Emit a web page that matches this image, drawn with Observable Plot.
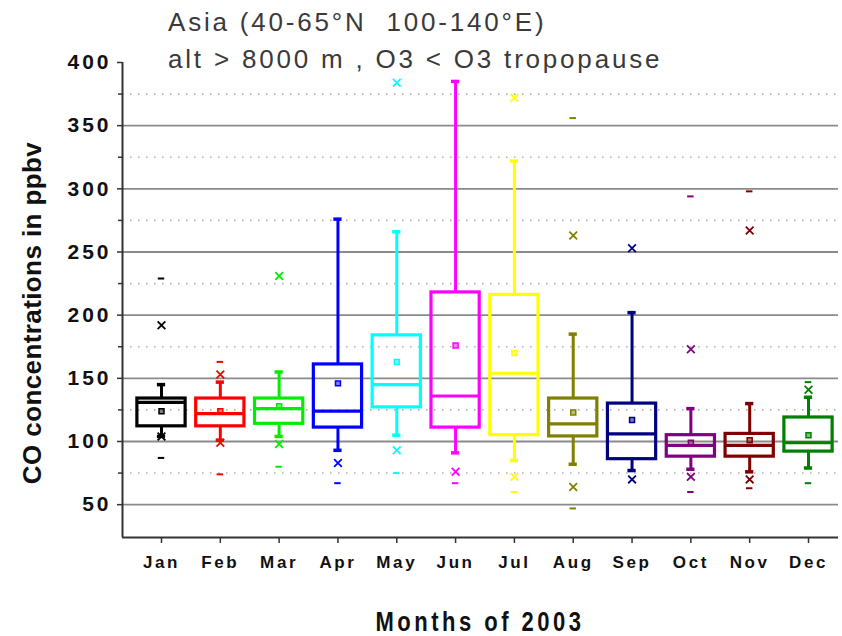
<!DOCTYPE html>
<html>
<head>
<meta charset="utf-8">
<script src="https://cdn.jsdelivr.net/npm/d3@7"></script>
<script src="https://cdn.jsdelivr.net/npm/@observablehq/plot@0.6"></script>
<style>
  html, body { margin: 0; padding: 0; background: #fff; }
  #wrap { position: relative; width: 842px; height: 636px; font-family: "Liberation Sans", Arial, sans-serif; overflow: hidden; }
  .t { position: absolute; left: 168px; font-size: 26px; line-height: 26px; color: #3a3a3a; white-space: pre; letter-spacing: 2.8px; }
  .ylab { position: absolute; left: 32px; top: 313px; transform: translate(-50%, -50%) rotate(-90deg); font-weight: bold; font-size: 26px; line-height: 26px; letter-spacing: 0.4px; color: #111; white-space: nowrap; }
  .xlab { position: absolute; left: 480px; top: 613px; line-height: 22px; transform: translateX(-50%) scaleY(1.25); transform-origin: 50% 19px; font-weight: bold; font-size: 22px; letter-spacing: 3.5px; color: #111; white-space: nowrap; }
  g[aria-label="x-axis tick label"] text { letter-spacing: 2.6px; }
  g[aria-label="y-axis tick label"] text { letter-spacing: 3px; }
</style>
</head>
<body>
<div id="wrap">
  <div id="chart"></div>
  <div class="t" style="top:9px">Asia (40-65°N  100-140°E)</div>
  <div class="t" style="top:46px">alt &gt; 8000 m , O3 &lt; O3 tropopause</div>
  <div class="ylab">CO concentrations in ppbv</div>
  <div class="xlab">Months of 2003</div>
</div>
<script>
const months = ["Jan","Feb","Mar","Apr","May","Jun","Jul","Aug","Sep","Oct","Nov","Dec"];
const colors = ["#000000","#ff0000","#00ee00","#0000ff","#00ffff","#ff00ff","#ffff00","#808000","#000080","#800080","#800000","#008000"];
const whiskLo = [104, 101, 104,  93, 105,  91,  85,  82,  77,  78,  76,  79];
const q1      = [112, 112, 114, 111, 127, 111, 105, 104,  86,  88,  88,  92];
const median  = [131, 122, 126, 124, 145, 136, 154, 114, 106,  97,  97,  99];
const q3      = [134, 134, 134, 161, 184, 218, 216, 134, 130, 105, 106, 119];
const whiskHi = [145, 147, 155, 276, 266, 385, 322, 185, 202, 126, 130, 135];
const meanV   = [124, 124, 128, 146, 163, 176, 170, 123, 117,  99, 101, 105];
const p1      = [104,  99,  98,  83,  93,  76,  72,  64,  70,  72,  70, null];
const p99     = [192, 153, 231, null, 384, null, 372, 263, 253, 173, 267, 141];
const minV    = [ 87,  74,  80,  67,  75,  67,  60,  47, null, 60,  63,  67];
const maxV    = [229, 163, null, null, null, null, null, 356, null, 294, 298, 147];

const solidGrid = [50, 100, 150, 200, 250, 300, 350];
const dotGrid = [75, 125, 175, 225, 275, 325, 375];
const yTicks = [50, 100, 150, 200, 250, 300, 350, 400];

const rows = months.map((m, k) => ({
  i: k + 1, m, color: colors[k],
  wl: whiskLo[k], q1: q1[k], med: median[k], q3: q3[k], wh: whiskHi[k],
  mean: meanV[k], p1: p1[k], p99: p99[k], min: minV[k], max: maxV[k]
}));
const pts = (key) => rows.filter(d => d[key] != null).map(d => ({i: d.i, v: d[key], color: d.color}));

const xMin = 0.337, xMax = 12.51, yMin = 24, yMax = 400;
const cap = 0.07, half = 0.41;

const chart = Plot.plot({
  width: 842,
  height: 636,
  marginLeft: 122,
  marginRight: 4,
  marginTop: 62,
  marginBottom: 99,
  style: { fontFamily: "'Liberation Sans', Arial, sans-serif", background: "#fff", overflow: "visible" },
  color: { type: "identity" },
  x: { type: "linear", domain: [xMin, xMax] },
  y: { domain: [yMin, yMax] },
  marks: [
    Plot.ruleY(solidGrid, { stroke: "#8a8a8a", strokeWidth: 1.8 }),
    Plot.ruleY(dotGrid, { stroke: "#b0b0b0", strokeWidth: 1.6, strokeDasharray: "1.5,6.5" }),
    // whiskers
    Plot.ruleX(rows, { x: "i", y1: "q3", y2: "wh", stroke: "color", strokeWidth: 3 }),
    Plot.ruleX(rows, { x: "i", y1: "q1", y2: "wl", stroke: "color", strokeWidth: 3 }),
    Plot.ruleY(rows, { y: "wh", x1: d => d.i - cap, x2: d => d.i + cap, stroke: "color", strokeWidth: 3.5 }),
    Plot.ruleY(rows, { y: "wl", x1: d => d.i - cap, x2: d => d.i + cap, stroke: "color", strokeWidth: 3.5 }),
    // boxes
    Plot.rect(rows, { x1: d => d.i - half, x2: d => d.i + half, y1: "q1", y2: "q3", stroke: "color", fill: "none", strokeWidth: 3.2 }),
    Plot.ruleY(rows, { y: "med", x1: d => d.i - half, x2: d => d.i + half, stroke: "color", strokeWidth: 3.2 }),
    // mean
    Plot.dot(rows, { x: "i", y: "mean", symbol: "square", r: 2.8, stroke: "color", fill: "color", fillOpacity: 0.5, strokeWidth: 1.5 }),
    // 1% / 99%
    Plot.dot(pts("p1"), { x: "i", y: "v", symbol: "times", r: 3.6, stroke: "color", strokeWidth: 1.8 }),
    Plot.dot(pts("p99"), { x: "i", y: "v", symbol: "times", r: 3.6, stroke: "color", strokeWidth: 1.8 }),
    // min / max
    Plot.ruleY(pts("min"), { y: "v", x1: d => d.i - 0.055, x2: d => d.i + 0.055, stroke: "color", strokeWidth: 2 }),
    Plot.ruleY(pts("max"), { y: "v", x1: d => d.i - 0.055, x2: d => d.i + 0.055, stroke: "color", strokeWidth: 2 }),
    // axes lines
    Plot.ruleX([xMin], { y1: yMin, y2: yMax, stroke: "#333", strokeWidth: 2 }),
    Plot.ruleY([yMin], { stroke: "#333", strokeWidth: 2 }),
    Plot.axisY(yTicks, { tickSize: 5, tickPadding: 6, fontSize: 21, fontWeight: "bold", fill: "#111", stroke: "#333", strokeWidth: 1.5, label: null }),
    Plot.axisY(dotGrid, { tickSize: 4, text: null, stroke: "#333", strokeWidth: 1.5, label: null }),
    Plot.axisX(rows.map(d => d.i), { tickSize: 6, tickPadding: 12, tickFormat: d => months[d - 1], fontSize: 17, fontWeight: "bold", fill: "#111", stroke: "#333", strokeWidth: 1.5, label: null })
  ]
});
document.getElementById("chart").appendChild(chart);
</script>
</body>
</html>
